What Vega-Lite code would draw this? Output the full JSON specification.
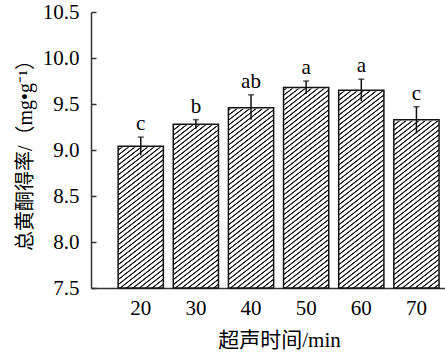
{
 "$schema": "https://vega.github.io/schema/vega-lite/v6.json",
 "width": 354, "height": 276,
 "autosize": "none",
 "padding": {"left": 91, "top": 12, "right": 0, "bottom": 70},
 "background": "white",
 "config": {"view": {"stroke": null}, "axis": {"grid": false, "labelFont": "Liberation Serif", "labelColor": "#000", "labelFontSize": 21, "titleFont": "Liberation Serif, Noto Sans CJK SC", "titleFontWeight": "normal", "titleColor": "#000", "domainColor": "#333", "domainWidth": 1.5, "tickColor": "#333", "tickWidth": 1.5}},
 "data": {"values": [
  {"t": "20", "mean": 9.04, "lower": 8.94, "upper": 9.14, "sig": "c"},
  {"t": "30", "mean": 9.28, "lower": 9.23, "upper": 9.33, "sig": "b"},
  {"t": "40", "mean": 9.46, "lower": 9.33, "upper": 9.60, "sig": "ab"},
  {"t": "50", "mean": 9.68, "lower": 9.61, "upper": 9.75, "sig": "a"},
  {"t": "60", "mean": 9.65, "lower": 9.53, "upper": 9.77, "sig": "a"},
  {"t": "70", "mean": 9.33, "lower": 9.18, "upper": 9.47, "sig": "c"}
 ]},
 "encoding": {"x": {"field": "t", "type": "nominal", "sort": null, "scale": {"paddingInner": 0.18, "paddingOuter": 0.3, "align": 0.82}, "axis": {"title": "超声时间/min", "labelAngle": 0, "ticks": false, "labelPadding": 9, "titleFontSize": 21, "titlePadding": 11, "titleX": 188}}},
 "layer": [
  {"mark": {"type": "bar", "stroke": null, "fill": {"gradient": "linear", "x1": 0, "y1": 0, "x2": 0.1419, "y2": 1.110, "stops": [
   {"offset":0.008,"color":"#fff"},{"offset":0.0104,"color":"#111"},{"offset":0.0128,"color":"#111"},{"offset":0.0152,"color":"#fff"},
   {"offset":0.024,"color":"#fff"},{"offset":0.0264,"color":"#111"},{"offset":0.0288,"color":"#111"},{"offset":0.0312,"color":"#fff"},
   {"offset":0.040,"color":"#fff"},{"offset":0.0424,"color":"#111"},{"offset":0.0448,"color":"#111"},{"offset":0.0472,"color":"#fff"},
   {"offset":0.056,"color":"#fff"},{"offset":0.0584,"color":"#111"},{"offset":0.0608,"color":"#111"},{"offset":0.0632,"color":"#fff"},
   {"offset":0.072,"color":"#fff"},{"offset":0.0744,"color":"#111"},{"offset":0.0768,"color":"#111"},{"offset":0.0792,"color":"#fff"},
   {"offset":0.088,"color":"#fff"},{"offset":0.0904,"color":"#111"},{"offset":0.0928,"color":"#111"},{"offset":0.0952,"color":"#fff"},
   {"offset":0.104,"color":"#fff"},{"offset":0.1064,"color":"#111"},{"offset":0.1088,"color":"#111"},{"offset":0.1112,"color":"#fff"},
   {"offset":0.120,"color":"#fff"},{"offset":0.1224,"color":"#111"},{"offset":0.1248,"color":"#111"},{"offset":0.1272,"color":"#fff"},
   {"offset":0.136,"color":"#fff"},{"offset":0.1384,"color":"#111"},{"offset":0.1408,"color":"#111"},{"offset":0.1432,"color":"#fff"},
   {"offset":0.152,"color":"#fff"},{"offset":0.1544,"color":"#111"},{"offset":0.1568,"color":"#111"},{"offset":0.1592,"color":"#fff"},
   {"offset":0.168,"color":"#fff"},{"offset":0.1704,"color":"#111"},{"offset":0.1728,"color":"#111"},{"offset":0.1752,"color":"#fff"},
   {"offset":0.184,"color":"#fff"},{"offset":0.1864,"color":"#111"},{"offset":0.1888,"color":"#111"},{"offset":0.1912,"color":"#fff"},
   {"offset":0.200,"color":"#fff"},{"offset":0.2024,"color":"#111"},{"offset":0.2048,"color":"#111"},{"offset":0.2072,"color":"#fff"},
   {"offset":0.216,"color":"#fff"},{"offset":0.2184,"color":"#111"},{"offset":0.2208,"color":"#111"},{"offset":0.2232,"color":"#fff"},
   {"offset":0.232,"color":"#fff"},{"offset":0.2344,"color":"#111"},{"offset":0.2368,"color":"#111"},{"offset":0.2392,"color":"#fff"},
   {"offset":0.248,"color":"#fff"},{"offset":0.2504,"color":"#111"},{"offset":0.2528,"color":"#111"},{"offset":0.2552,"color":"#fff"},
   {"offset":0.264,"color":"#fff"},{"offset":0.2664,"color":"#111"},{"offset":0.2688,"color":"#111"},{"offset":0.2712,"color":"#fff"},
   {"offset":0.280,"color":"#fff"},{"offset":0.2824,"color":"#111"},{"offset":0.2848,"color":"#111"},{"offset":0.2872,"color":"#fff"},
   {"offset":0.296,"color":"#fff"},{"offset":0.2984,"color":"#111"},{"offset":0.3008,"color":"#111"},{"offset":0.3032,"color":"#fff"},
   {"offset":0.312,"color":"#fff"},{"offset":0.3144,"color":"#111"},{"offset":0.3168,"color":"#111"},{"offset":0.3192,"color":"#fff"},
   {"offset":0.328,"color":"#fff"},{"offset":0.3304,"color":"#111"},{"offset":0.3328,"color":"#111"},{"offset":0.3352,"color":"#fff"},
   {"offset":0.344,"color":"#fff"},{"offset":0.3464,"color":"#111"},{"offset":0.3488,"color":"#111"},{"offset":0.3512,"color":"#fff"},
   {"offset":0.360,"color":"#fff"},{"offset":0.3624,"color":"#111"},{"offset":0.3648,"color":"#111"},{"offset":0.3672,"color":"#fff"},
   {"offset":0.376,"color":"#fff"},{"offset":0.3784,"color":"#111"},{"offset":0.3808,"color":"#111"},{"offset":0.3832,"color":"#fff"},
   {"offset":0.392,"color":"#fff"},{"offset":0.3944,"color":"#111"},{"offset":0.3968,"color":"#111"},{"offset":0.3992,"color":"#fff"},
   {"offset":0.408,"color":"#fff"},{"offset":0.4104,"color":"#111"},{"offset":0.4128,"color":"#111"},{"offset":0.4152,"color":"#fff"},
   {"offset":0.424,"color":"#fff"},{"offset":0.4264,"color":"#111"},{"offset":0.4288,"color":"#111"},{"offset":0.4312,"color":"#fff"},
   {"offset":0.440,"color":"#fff"},{"offset":0.4424,"color":"#111"},{"offset":0.4448,"color":"#111"},{"offset":0.4472,"color":"#fff"},
   {"offset":0.456,"color":"#fff"},{"offset":0.4584,"color":"#111"},{"offset":0.4608,"color":"#111"},{"offset":0.4632,"color":"#fff"},
   {"offset":0.472,"color":"#fff"},{"offset":0.4744,"color":"#111"},{"offset":0.4768,"color":"#111"},{"offset":0.4792,"color":"#fff"},
   {"offset":0.488,"color":"#fff"},{"offset":0.4904,"color":"#111"},{"offset":0.4928,"color":"#111"},{"offset":0.4952,"color":"#fff"},
   {"offset":0.504,"color":"#fff"},{"offset":0.5064,"color":"#111"},{"offset":0.5088,"color":"#111"},{"offset":0.5112,"color":"#fff"},
   {"offset":0.520,"color":"#fff"},{"offset":0.5224,"color":"#111"},{"offset":0.5248,"color":"#111"},{"offset":0.5272,"color":"#fff"},
   {"offset":0.536,"color":"#fff"},{"offset":0.5384,"color":"#111"},{"offset":0.5408,"color":"#111"},{"offset":0.5432,"color":"#fff"},
   {"offset":0.552,"color":"#fff"},{"offset":0.5544,"color":"#111"},{"offset":0.5568,"color":"#111"},{"offset":0.5592,"color":"#fff"},
   {"offset":0.568,"color":"#fff"},{"offset":0.5704,"color":"#111"},{"offset":0.5728,"color":"#111"},{"offset":0.5752,"color":"#fff"},
   {"offset":0.584,"color":"#fff"},{"offset":0.5864,"color":"#111"},{"offset":0.5888,"color":"#111"},{"offset":0.5912,"color":"#fff"},
   {"offset":0.600,"color":"#fff"},{"offset":0.6024,"color":"#111"},{"offset":0.6048,"color":"#111"},{"offset":0.6072,"color":"#fff"},
   {"offset":0.616,"color":"#fff"},{"offset":0.6184,"color":"#111"},{"offset":0.6208,"color":"#111"},{"offset":0.6232,"color":"#fff"},
   {"offset":0.632,"color":"#fff"},{"offset":0.6344,"color":"#111"},{"offset":0.6368,"color":"#111"},{"offset":0.6392,"color":"#fff"},
   {"offset":0.648,"color":"#fff"},{"offset":0.6504,"color":"#111"},{"offset":0.6528,"color":"#111"},{"offset":0.6552,"color":"#fff"},
   {"offset":0.664,"color":"#fff"},{"offset":0.6664,"color":"#111"},{"offset":0.6688,"color":"#111"},{"offset":0.6712,"color":"#fff"},
   {"offset":0.680,"color":"#fff"},{"offset":0.6824,"color":"#111"},{"offset":0.6848,"color":"#111"},{"offset":0.6872,"color":"#fff"},
   {"offset":0.696,"color":"#fff"},{"offset":0.6984,"color":"#111"},{"offset":0.7008,"color":"#111"},{"offset":0.7032,"color":"#fff"},
   {"offset":0.712,"color":"#fff"},{"offset":0.7144,"color":"#111"},{"offset":0.7168,"color":"#111"},{"offset":0.7192,"color":"#fff"},
   {"offset":0.728,"color":"#fff"},{"offset":0.7304,"color":"#111"},{"offset":0.7328,"color":"#111"},{"offset":0.7352,"color":"#fff"},
   {"offset":0.744,"color":"#fff"},{"offset":0.7464,"color":"#111"},{"offset":0.7488,"color":"#111"},{"offset":0.7512,"color":"#fff"},
   {"offset":0.760,"color":"#fff"},{"offset":0.7624,"color":"#111"},{"offset":0.7648,"color":"#111"},{"offset":0.7672,"color":"#fff"},
   {"offset":0.776,"color":"#fff"},{"offset":0.7784,"color":"#111"},{"offset":0.7808,"color":"#111"},{"offset":0.7832,"color":"#fff"},
   {"offset":0.792,"color":"#fff"},{"offset":0.7944,"color":"#111"},{"offset":0.7968,"color":"#111"},{"offset":0.7992,"color":"#fff"},
   {"offset":0.808,"color":"#fff"},{"offset":0.8104,"color":"#111"},{"offset":0.8128,"color":"#111"},{"offset":0.8152,"color":"#fff"},
   {"offset":0.824,"color":"#fff"},{"offset":0.8264,"color":"#111"},{"offset":0.8288,"color":"#111"},{"offset":0.8312,"color":"#fff"},
   {"offset":0.840,"color":"#fff"},{"offset":0.8424,"color":"#111"},{"offset":0.8448,"color":"#111"},{"offset":0.8472,"color":"#fff"},
   {"offset":0.856,"color":"#fff"},{"offset":0.8584,"color":"#111"},{"offset":0.8608,"color":"#111"},{"offset":0.8632,"color":"#fff"},
   {"offset":0.872,"color":"#fff"},{"offset":0.8744,"color":"#111"},{"offset":0.8768,"color":"#111"},{"offset":0.8792,"color":"#fff"},
   {"offset":0.888,"color":"#fff"},{"offset":0.8904,"color":"#111"},{"offset":0.8928,"color":"#111"},{"offset":0.8952,"color":"#fff"},
   {"offset":0.904,"color":"#fff"},{"offset":0.9064,"color":"#111"},{"offset":0.9088,"color":"#111"},{"offset":0.9112,"color":"#fff"},
   {"offset":0.920,"color":"#fff"},{"offset":0.9224,"color":"#111"},{"offset":0.9248,"color":"#111"},{"offset":0.9272,"color":"#fff"},
   {"offset":0.936,"color":"#fff"},{"offset":0.9384,"color":"#111"},{"offset":0.9408,"color":"#111"},{"offset":0.9432,"color":"#fff"},
   {"offset":0.952,"color":"#fff"},{"offset":0.9544,"color":"#111"},{"offset":0.9568,"color":"#111"},{"offset":0.9592,"color":"#fff"},
   {"offset":0.968,"color":"#fff"},{"offset":0.9704,"color":"#111"},{"offset":0.9728,"color":"#111"},{"offset":0.9752,"color":"#fff"},
   {"offset":0.984,"color":"#fff"},{"offset":0.9864,"color":"#111"},{"offset":0.9888,"color":"#111"},{"offset":0.9912,"color":"#fff"}
  ]}},
   "encoding": {
    "y": {"datum": 10.5, "type": "quantitative", "scale": {"domain": [7.5, 10.5], "zero": false, "nice": false},
      "axis": {"title": "总黄酮得率/（mg•g⁻¹）", "values": [7.5, 8, 8.5, 9, 9.5, 10, 10.5], "format": ".1f", "tickSize": -5, "labelPadding": 17, "titleFontSize": 20, "titlePadding": 7}},
    "y2": {"datum": 7.5}
   }
  },
  {"mark": {"type": "bar", "fill": "white", "stroke": "white", "strokeWidth": 2},
   "encoding": {"y": {"field": "mean", "type": "quantitative"}, "y2": {"datum": 10.5}}},
  {"mark": {"type": "bar", "fillOpacity": 0, "stroke": "#111", "strokeWidth": 1.5},
   "encoding": {"y": {"field": "mean", "type": "quantitative"}, "y2": {"datum": 7.5}}},
  {"mark": {"type": "rule", "color": "#111", "strokeWidth": 1.5},
   "encoding": {"y": {"field": "lower", "type": "quantitative"}, "y2": {"field": "upper"}}},
  {"mark": {"type": "tick", "color": "#111", "thickness": 1.5, "size": 6, "orient": "horizontal"},
   "encoding": {"y": {"field": "upper", "type": "quantitative"}}},
  {"mark": {"type": "text", "baseline": "bottom", "dy": -3, "font": "Liberation Serif", "fontSize": 21, "color": "#000"},
   "encoding": {"y": {"field": "upper", "type": "quantitative"}, "text": {"field": "sig"}}}
 ]
}
